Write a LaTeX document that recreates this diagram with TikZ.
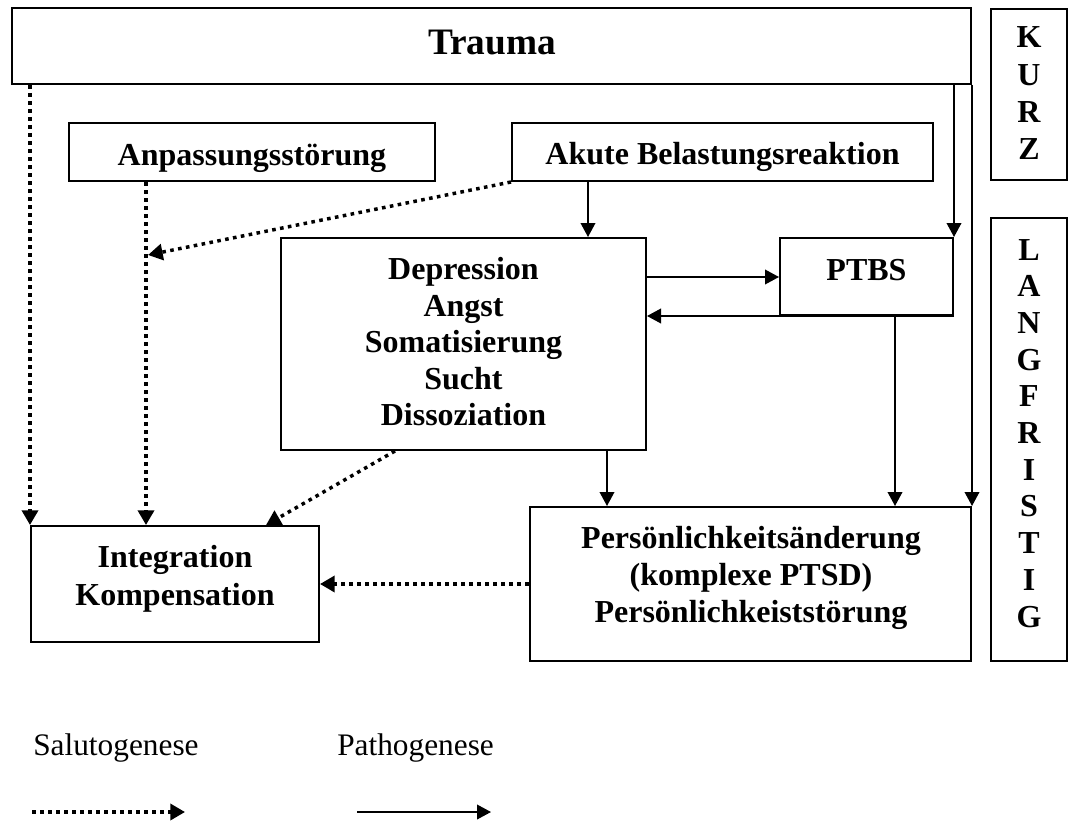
\documentclass[tikz,border=0pt]{standalone}
\usepackage{fontspec}
\setmainfont{Liberation Serif}
\usetikzlibrary{arrows.meta,fit}
\begin{document}
\begin{tikzpicture}[x=0.75pt,y=-0.75pt,
  box/.style={draw, line width=1.5pt, inner sep=0pt, rectangle},
  lbl/.style={anchor=base, inner sep=0pt, font=\fontsize{24}{28}\selectfont\bfseries},
  biglbl/.style={anchor=base, inner sep=0pt, font=\fontsize{28}{33}\selectfont\bfseries},
  leg/.style={anchor=base west, inner sep=0pt, font=\fontsize{23.5}{28}\selectfont},
  solidarr/.style={line width=1.2pt, -{Triangle[length=10.5pt,width=11pt]}},
  dotarr/.style={line width=2.6pt, dash pattern=on 2.7pt off 3.3pt, -{Triangle[length=11pt,width=12pt]}}
]
\useasboundingbox (0,0) rectangle (1069,820);

% boxes
\node[box, fit={(12,8) (971,84)}] (trauma) {};
\node[box, fit={(991,9) (1067,180)}] (kurz) {};
\node[box, fit={(991,218) (1067,661)}] (lang) {};
\node[box, fit={(69,123) (435,181)}] (anpass) {};
\node[box, fit={(512,123) (933,181)}] (akute) {};
\node[box, fit={(281,238) (646,450)}] (depr) {};
\node[box, fit={(780,238) (953,315)}] (ptbs) {};
\node[box, fit={(31,526) (319,642)}] (integ) {};
\node[box, fit={(530,507) (971,661)}] (pers) {};

% texts
\node[biglbl] (traumaT) at (492,55) {Trauma};
\node[lbl] (anpT) at (252,165) {Anpassungsstörung};
\node[lbl] (akuT) at (722.5,164) {Akute Belastungsreaktion};
\node[lbl] (depT1) at (463.5,279) {Depression};
\node[lbl] (depT2) at (463.5,316) {Angst};
\node[lbl] (depT3) at (463.5,352) {Somatisierung};
\node[lbl] (depT4) at (463.5,389) {Sucht};
\node[lbl] (depT5) at (463.5,425) {Dissoziation};
\node[lbl] (ptbsT) at (866.5,280) {PTBS};
\node[lbl] (intT1) at (175,567) {Integration};
\node[lbl] (intT2) at (175,605) {Kompensation};
\node[lbl] (perT1) at (751,548) {Persönlichkeitsänderung};
\node[lbl] (perT2) at (751,585) {(komplexe PTSD)};
\node[lbl] (perT3) at (751,622) {Persönlichkeiststörung};

\foreach \c [count=\i from 0] in {K,U,R,Z}
  \node[lbl] (kurz\i) at (1029,48+37.3*\i) {\c};
\foreach \c [count=\i from 0] in {L,A,N,G,F,R,I,S,T,I,G}
  \node[lbl] (lang\i) at (1029,260+36.7*\i) {\c};

% helper coordinates
\coordinate (xA) at (588,0);
\coordinate (xD) at (607,0);
\coordinate (xE) at (895,0);
\coordinate (xF) at (146,0);
\coordinate (xH) at (395,0);
\coordinate (xI) at (266,0);
\coordinate (yC) at (0,277);
\coordinate (yJ) at (0,584);
\coordinate (tipG) at (148,255);

% solid connectors
\draw[solidarr] (akute.south -| xA) -- (depr.north -| xA);
\draw[solidarr] (trauma.south -| ptbs.north east) -- (ptbs.north east);
\draw[solidarr] (trauma.south east) -- (pers.north east);
\draw[solidarr] (depr.east |- yC) -- (ptbs.west |- yC);
\draw[solidarr] (ptbs.south east) -- (depr.east |- ptbs.south);
\draw[solidarr] (depr.south -| xD) -- (pers.north -| xD);
\draw[solidarr] (ptbs.south -| xE) -- (pers.north -| xE);

% dotted connectors
\draw[dotarr] (trauma.south -| integ.north west) -- (integ.north west);
\draw[dotarr] (anpass.south -| xF) -- (integ.north -| xF);
\draw[dotarr] (akute.south west) -- (tipG);
\draw[dotarr] (depr.south -| xH) -- (integ.north -| xI);
\draw[dotarr] (pers.west |- yJ) -- (integ.east |- yJ);

% legend
\node[leg] (salu) at (33,755) {Salutogenese};
\node[leg] (patho) at (337,755) {Pathogenese};
\coordinate (ls1) at (32,812);
\coordinate (ls2) at (185,812);
\coordinate (lp1) at (357,812);
\coordinate (lp2) at (491,812);
\draw[dotarr] (ls1) -- (ls2);
\draw[solidarr] (lp1) -- (lp2);
\end{tikzpicture}
\end{document}
